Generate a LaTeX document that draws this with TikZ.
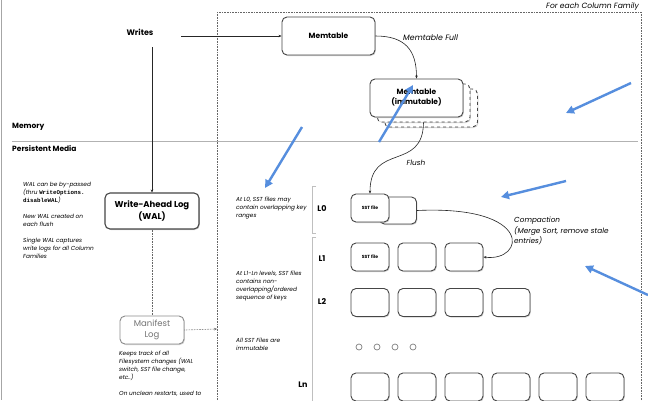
\documentclass[tikz,border=0pt]{standalone}
\usepackage{fontspec}
\setmainfont{Poppins}
\setmonofont{Liberation Mono}
\usetikzlibrary{arrows.meta, positioning, shadows}

\definecolor{annotblue}{RGB}{86,142,222}
\definecolor{boxline}{RGB}{70,70,70}

\begin{document}
\begin{tikzpicture}[
			x=1pt, y=-1pt,
			every node/.style={inner sep=0pt, align=left},
			box/.style={
				draw=boxline,
				line width=0.9pt,
				fill=white,
				rectangle,
				rounded corners=5pt,
				align=center,
				font=\fontsize{7.5}{10}\selectfont\bfseries,
				drop shadow={opacity=0.35, shadow xshift=0.9pt, shadow yshift=-1pt}
			},
			backbox/.style={box, dashed, drop shadow={opacity=0}},
			sstbox/.style={box, minimum width=38pt, minimum height=28pt, font=\fontsize{4.5}{5}\selectfont\bfseries},
			arrow/.style={-{Stealth[length=3pt, width=2.5pt]}, line width=0.6pt, color=black!85},
			dotline/.style={line width=0.6pt, color=black!60, dash pattern=on 0.7pt off 0.9pt},
			annot/.style={-{Triangle[length=8pt, width=8pt]}, line width=2.4pt, color=annotblue},
			note/.style={font=\fontsize{5.8}{8}\selectfont\itshape, anchor=north west},
			heading/.style={font=\fontsize{7.5}{9}\selectfont\bfseries},
			lvl/.style={font=\fontsize{8}{9}\selectfont\bfseries},
			lbl/.style={font=\fontsize{7.3}{10.5}\selectfont\itshape}
			]
			\useasboundingbox (0,0) rectangle (648,400);
			\fill[white] (0,0) rectangle (648,400);
			\draw[black!35, line width=0.8pt] (1,0) -- (1,400);
			
			% -------- Column family frame --------
			\draw[dotline] (217,12) rectangle (641,410);
			\node[lbl, font=\fontsize{7.6}{9}\selectfont\itshape, anchor=south east] (cf) at (639,11) {For each Column Family};
			
			% -------- Memory / persistent split --------
			\draw[black!30, line width=0.7pt] (12,141) -- (638,141);
			\node[heading, anchor=west] (mem) at (12,127) {Memory};
			\node[heading, anchor=west] (pers) at (12,149) {Persistent Media};
			
			% -------- Writes --------
			\node[heading, font=\fontsize{8}{9}\selectfont\bfseries] (writes) at (140,32) {Writes};
			\coordinate (wr) at (181,36);
			\coordinate (wd) at (152,47);
			
			\node[box, minimum width=93pt, minimum height=38pt] (memt) at (328.5,36) {Memtable};
			\node[backbox, minimum width=93pt, minimum height=38pt] (imm2) at (431,108) {};
			\node[backbox, minimum width=93pt, minimum height=38pt] (imm1) at (423.5,103) {};
			\node[box, minimum width=93pt, minimum height=38pt] (imm) at (416.5,98) {Memtable\\(immutable)};
			
			\node[box, minimum width=94pt, minimum height=36pt, line width=1.1pt,
				font=\fontsize{8.5}{12}\selectfont\bfseries] (wal) at (152,211) {Write-Ahead Log\\(WAL)};
			\node[box, draw=black!45, minimum width=64pt, minimum height=28pt, text=black!55,
				font=\fontsize{8.5}{11}\selectfont] (mani) at (152,330) {Manifest\\Log};
			\coordinate (cfleft) at (217,329);
			
			\draw[arrow] (wr) -- (memt.west);
			\draw[arrow] (wd) -- (wal.north);
			\draw[dotline] (wal.south) -- (mani.north);
			\draw[dotline, -{Stealth[length=3pt, width=2.5pt]}] (mani.east) -- (cfleft);
			
			\draw[arrow] (memt.east) .. controls (405,36) and (416.5,50) .. (imm.north);
			\node[lbl, font=\fontsize{7.8}{10}\selectfont\itshape, anchor=west] (full) at (403,38) {Memtable Full};
			
			% -------- Levels --------
			\node[sstbox, minimum width=37pt, minimum height=27pt] (l0b) at (398,210.5) {};
			\node[sstbox] (l0a) at (370,208) {SST file};
			
			\node[sstbox] (l1a) at (370,257) {SST file};
			\node[sstbox] (l1b) at (417,257) {};
			\node[sstbox] (l1c) at (464,257) {};
			
			\foreach \i in {0,...,3}
				\node[sstbox] (l2\i) at (370+47*\i,302.5) {};
			
			\foreach \i in {0,...,3}
				\draw[black!50, line width=0.7pt] (359+18*\i,347) circle (3pt);
			
			\foreach \i in {0,...,5}
				\node[sstbox] (ln\i) at (370+47*\i,387) {};
			
			\draw[arrow] (imm1.south) .. controls (423,172) and (370,142) .. (l0a.north);
			\node[lbl] (flush) at (416,163) {Flush};
			
			\draw[arrow] (l0b.east) .. controls (535,205) and (525,262) .. (l1c.east);
			\node[lbl, anchor=north west] (compact) at (514,217) {Compaction\\(Merge Sort, remove stale\\entries)};
			
			\draw[black!25, line width=0.7pt] (316,186) -- (312,186) -- (312,233) -- (316,233);
			\draw[black!25, line width=0.7pt] (316,237) -- (312,237) -- (312,405);
			\node[lvl] (lab0) at (322,209) {L0};
			\node[lvl] (lab1) at (322,259) {L1};
			\node[lvl] (lab2) at (322,302) {L2};
			\node[lvl] (labn) at (303,385) {Ln};
			
			% -------- Notes --------
			\node[note] (walnote) at (23,182.5) {WAL can be by-passed\\(thru {\upshape\ttfamily\bfseries WriteOptions.}\\{\upshape\ttfamily\bfseries disableWAL})\\[8pt]New WAL created on\\each flush\\[8pt]Single WAL captures\\write logs for all Column\\Families};
			\node[note] (maninote) at (119,350.5) {Keeps track of all\\Filesystem changes (WAL\\switch, SST file change,\\etc..)\\[8pt]On unclean restarts, used to};
			\node[note] (l0note) at (236,197) {At L0, SST files may\\contain overlapping key\\ranges};
			\node[note] (l1note) at (236,270.5) {At L1-Ln levels, SST files\\contains non-\\overlapping/ordered\\sequence of keys};
			\node[note] (imnote) at (236,338) {All SST Files are\\immutable};
			
			% -------- Blue marks --------
			\coordinate (b1s) at (302,127); \coordinate (b1e) at (265,188);
			\coordinate (b2s) at (379,142); \coordinate (b2e) at (413,85);
			\coordinate (b3s) at (631,83);  \coordinate (b3e) at (566,113);
			\coordinate (b4s) at (566,181); \coordinate (b4e) at (501,197);
			\coordinate (b5s) at (648,295); \coordinate (b5e) at (585,266);
			\foreach \m in {1,...,5}
				\draw[annot] (b\m s) -- (b\m e);
			
	\end{tikzpicture}
\end{document}
